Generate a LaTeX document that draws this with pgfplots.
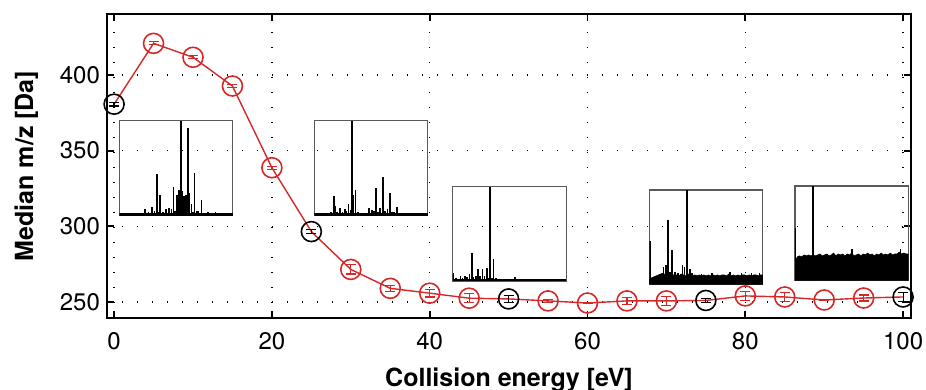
\documentclass[border=0pt]{standalone}
\usepackage{pgfplots}
\pgfplotsset{compat=1.18}
\usepackage{pgfplotstable}
\usepackage{fontspec}
\setmainfont{TeX Gyre Heros}
\usetikzlibrary{calc}
\definecolor{myred}{RGB}{214,40,40}

\pgfplotstableread{
x y e
0 380.7 1.2
5 420.9 1.0
10 411.7 1.0
15 392.7 1.0
20 338.7 1.0
25 296.5 1.5
30 271.5 3
35 259 2
40 255.8 2.5
45 252.5 3
50 252 2.5
55 250.7 0.8
60 249.3 0.5
65 250.7 2.5
70 250.7 3
75 251 1.5
80 254 3
85 253.3 3
90 251.3 0.2
95 252.6 2
100 253.3 2.8
}\alldata

\pgfplotstableread{
x y e
5 420.9 1.0
10 411.7 1.0
15 392.7 1.0
20 338.7 1.0
30 271.5 3
35 259 2
40 255.8 2.5
45 252.5 3
55 250.7 0.8
60 249.3 0.5
65 250.7 2.5
70 250.7 3
80 254 3
85 253.3 3
90 251.3 0.2
95 252.6 2
}\reddata

\pgfplotstableread{
x y e
0 380.7 1.2
25 296.5 1.5
50 252 2.5
75 251 1.5
100 253.3 2.8
}\blackdata

\pgfplotsset{
  inset/.style={scale only axis, width=56.7pt, height=47.2pt,
    xmin=0, xmax=1, ymin=0, ymax=1, ticks=none,
    axis line style={black!65, line width=0.6pt}, clip=true, anchor=north west},
  peak/.style={ycomb, black, line width=0.8pt, mark=none},
  base/.style={black, line width=1.3pt, mark=none},
  med/.style={black, line width=0.8pt, mark=none},
}

\begin{document}
\begin{tikzpicture}
\begin{axis}[
  scale only axis, width=402pt, height=152pt,
  xmin=-0.9, xmax=101, ymin=239.4, ymax=440.3,
  xtick={0,20,...,100}, ytick={250,300,350,400},
  tick align=inside, major tick length=3.5pt,
  axis line style={line width=1.2pt},
  tick style={line width=0.9pt, black},
  grid=major,
  major grid style={black, line width=0.7pt, dash pattern=on 0.7pt off 6.8pt},
  ticklabel style={font=\fontsize{12}{14}\selectfont},
  xticklabel style={yshift=-3.5pt},
  /pgf/number format/assume math mode=true,
  xlabel={Collision energy [eV]}, ylabel={Median m/z [Da]},
  label style={font=\fontsize{12.5}{14}\selectfont\bfseries},
  xlabel style={yshift=-2.5pt},
  ylabel style={yshift=4pt},
]
\addplot[myred, line width=0.7pt, mark=none] table[x=x,y=y] {\alldata};
\addplot[myred, line width=0.7pt, only marks, mark=o, mark size=5pt,
  mark options={line width=0.8pt},
  error bars/.cd, y dir=both, y explicit,
  error bar style={line width=0.6pt, myred},
  error mark options={rotate=90, line width=0.6pt, mark size=2.5pt, myred}]
  table[x=x,y=y,y error=e] {\reddata};
\addplot[black, line width=0.7pt, only marks, mark=o, mark size=5pt,
  mark options={line width=0.8pt},
  error bars/.cd, y dir=both, y explicit,
  error bar style={line width=0.6pt, black},
  error mark options={rotate=90, line width=0.6pt, mark size=2.5pt, black}]
  table[x=x,y=y,y error=e] {\blackdata};
\coordinate (SW) at (rel axis cs:0,0);
\coordinate (NE) at (rel axis cs:1,1);
\coordinate (i1) at (axis cs:0.67,369.8);
\coordinate (i2) at (axis cs:25.39,369.8);
\coordinate (i3) at (axis cs:42.93,326.2);
\coordinate (i4) at (axis cs:67.85,324.0);
\coordinate (i5) at (axis cs:86.3,326.6);
\end{axis}

% inset 1
\begin{axis}[inset, at={(i1)}]
\addplot[peak] coordinates {(0.226,0.064) (0.255,0.03) (0.29,0.09) (0.31,0.04) (0.33,0.43) (0.342,0.03) (0.36,0.21) (0.385,0.03) (0.41,0.064) (0.44,0.07) (0.46,0.06) (0.478,0.30) (0.492,0.04) (0.51,0.21) (0.528,0.27) (0.556,0.25) (0.571,0.20) (0.588,0.21) (0.603,0.925) (0.62,0.23) (0.635,0.12) (0.65,0.03) (0.664,0.45) (0.68,0.04) (0.695,0.04) (0.725,0.16) (0.748,0.02) (0.78,0.03) (0.816,0.02) (0.846,0.03) (0.875,0.02) (0.904,0.02) (0.933,0.015)};
\addplot[base] coordinates {(0,0.008) (1,0.008)};
\addplot[med] coordinates {(0.542,0) (0.542,1)};
\end{axis}

% inset 2
\begin{axis}[inset, at={(i2)}]
\addplot[peak] coordinates {(0.07,0.015) (0.11,0.02) (0.145,0.035) (0.174,0.2) (0.18,0.1) (0.20,0.03) (0.226,0.08) (0.246,0.03) (0.267,0.064) (0.284,0.045) (0.30,0.12) (0.318,0.05) (0.342,0.21) (0.362,0.27) (0.382,0.03) (0.481,0.07) (0.51,0.05) (0.525,0.04) (0.542,0.285) (0.56,0.035) (0.577,0.07) (0.603,0.40) (0.62,0.045) (0.643,0.064) (0.667,0.235) (0.684,0.03) (0.701,0.035) (0.730,0.09) (0.754,0.02) (0.797,0.015)};
\addplot[base] coordinates {(0,0.008) (1,0.008)};
\addplot[med] coordinates {(0.333,0) (0.333,1)};
\end{axis}

% inset 3
\begin{axis}[inset, at={(i3)}]
\addplot[peak] coordinates {(0.004,0.09) (0.03,0.03) (0.067,0.05) (0.087,0.035) (0.105,0.05) (0.125,0.045) (0.146,0.08) (0.169,0.30) (0.183,0.045) (0.204,0.05) (0.22,0.13) (0.238,0.05) (0.26,0.13) (0.28,0.05) (0.30,0.135) (0.32,0.035) (0.343,0.03) (0.36,0.23) (0.382,0.03) (0.402,0.015) (0.55,0.04) (0.608,0.018) (0.725,0.015) (0.84,0.015)};
\addplot[base] coordinates {(0,0.01) (1,0.01)};
\addplot[med] coordinates {(0.33,0) (0.33,1)};
\end{axis}

% inset 4
\begin{axis}[inset, at={(i4)}]
\addplot[fill=black, draw=black, line width=0.3pt, mark=none] coordinates {(0,0.05) (0.02,0.07) (0.04,0.08) (0.06,0.09) (0.08,0.10) (0.10,0.11) (0.12,0.12) (0.14,0.10) (0.16,0.12) (0.18,0.10) (0.20,0.11) (0.22,0.09) (0.24,0.10) (0.26,0.09) (0.28,0.11) (0.30,0.10) (0.32,0.09) (0.34,0.11) (0.36,0.10) (0.38,0.09) (0.40,0.10) (0.42,0.09) (0.44,0.10) (0.46,0.09) (0.48,0.10) (0.50,0.09) (0.52,0.10) (0.54,0.09) (0.56,0.10) (0.58,0.09) (0.60,0.10) (0.62,0.09) (0.64,0.10) (0.66,0.10) (0.68,0.09) (0.70,0.11) (0.72,0.09) (0.74,0.10) (0.76,0.09) (0.78,0.10) (0.80,0.09) (0.82,0.10) (0.84,0.10) (0.86,0.09) (0.88,0.10) (0.90,0.09) (0.92,0.10) (0.94,0.10) (0.96,0.09) (0.98,0.10) (1,0.10)} \closedcycle;
\addplot[peak] coordinates {(0.004,0.46) (0.125,0.18) (0.145,0.21) (0.163,0.68) (0.18,0.13) (0.198,0.36) (0.225,0.13) (0.25,0.12) (0.29,0.21) (0.31,0.18) (0.36,0.16) (0.377,0.12) (0.46,0.11) (0.55,0.12) (0.71,0.13) (0.81,0.12) (0.90,0.12) (0.97,0.12)};
\addplot[med] coordinates {(0.33,0) (0.33,1)};
\end{axis}

% inset 5
\begin{axis}[inset, at={(i5)}]
\addplot[fill=black, draw=black, line width=0.3pt, mark=none] coordinates {(0,0.20) (0.02,0.25) (0.04,0.26) (0.06,0.25) (0.08,0.27) (0.10,0.26) (0.12,0.27) (0.14,0.26) (0.16,0.27) (0.18,0.26) (0.20,0.27) (0.22,0.28) (0.24,0.26) (0.26,0.27) (0.28,0.28) (0.30,0.26) (0.32,0.27) (0.34,0.29) (0.36,0.26) (0.38,0.28) (0.40,0.27) (0.42,0.28) (0.44,0.26) (0.46,0.28) (0.48,0.27) (0.50,0.29) (0.52,0.26) (0.54,0.27) (0.56,0.28) (0.58,0.26) (0.60,0.28) (0.62,0.27) (0.64,0.29) (0.66,0.27) (0.68,0.28) (0.70,0.26) (0.72,0.28) (0.74,0.27) (0.76,0.29) (0.78,0.27) (0.80,0.28) (0.82,0.27) (0.84,0.29) (0.86,0.27) (0.88,0.28) (0.90,0.28) (0.92,0.30) (0.94,0.28) (0.96,0.29) (0.98,0.28) (1,0.28)} \closedcycle;
\addplot[peak] coordinates {(0.004,0.56) (0.158,0.52) (0.50,0.33) (0.93,0.33)};
\addplot[med] coordinates {(0.158,0) (0.158,1)};
\end{axis}

\pgfresetboundingbox
\path ($(SW)+(-53.5pt,-36pt)$) rectangle ($(NE)+(7.5pt,7pt)$);
\end{tikzpicture}
\end{document}
